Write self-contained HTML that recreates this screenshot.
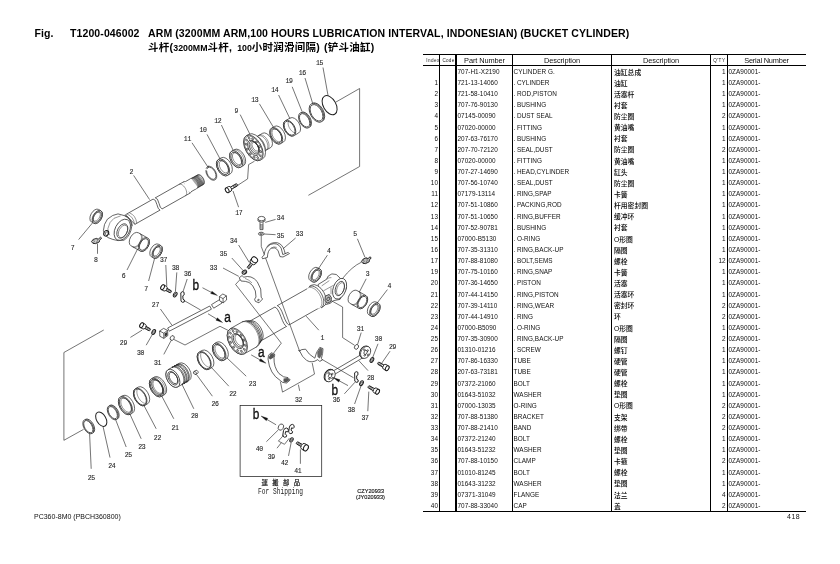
<!DOCTYPE html>
<html lang="zh"><head><meta charset="utf-8"><title>T1200-046002 ARM (BUCKET CYLINDER)</title>
<style>
html,body{margin:0;padding:0;background:#fff;}
#page{will-change:transform;position:relative;width:840px;height:564px;overflow:hidden;background:#fff;color:#000;font-family:"Liberation Sans","Noto Sans CJK SC",sans-serif;}
.t1{position:absolute;top:26.5px;letter-spacing:0.105px;font:bold 10.5px/12px "Liberation Sans","Noto Sans CJK SC",sans-serif;white-space:nowrap;}
.t2{position:absolute;left:148px;top:41px;letter-spacing:0.25px;font:bold 10.5px/12px "Liberation Sans","Noto Sans CJK SC",sans-serif;white-space:nowrap;}
.hl{position:absolute;left:423px;width:383px;background:#000;}
.vl{position:absolute;top:54px;height:457px;background:#000;}
.hs{position:absolute;top:55.7px;height:9px;font:4.6px/9px "Liberation Sans",sans-serif;color:#222;text-align:center;white-space:nowrap;}
.hb{position:absolute;top:55.6px;height:9px;letter-spacing:-0.1px;font:7.4px/9px "Liberation Sans",sans-serif;text-align:center;white-space:nowrap;color:#111;}
.r{position:absolute;left:0;width:840px;height:10px;font:6.4px/10px "Liberation Sans","Noto Sans CJK SC",sans-serif;letter-spacing:0.04px;color:#111;}
.c{position:absolute;top:0;white-space:nowrap;}
.ci{left:417px;width:21px;text-align:right;}
.cp{left:457.5px;}
.cd{left:513.5px;}
.cz{left:614px;top:0.7px;font-weight:500;color:#000;letter-spacing:0;font-family:"Liberation Sans","Noto Sans CJK SC",sans-serif;font-size:6.8px;}
.cq{left:705px;width:20.6px;text-align:right;}
.cs{left:728.5px;}
.ft{position:absolute;top:512px;font:7px/10px "Liberation Sans","Noto Sans CJK SC",sans-serif;white-space:nowrap;color:#111;}
svg#dg{position:absolute;left:0;top:0;}
.t2 .e{font-size:8.8px;letter-spacing:0;}
.dt{display:inline-block;width:3.4px;}

</style></head>
<body>
<div id="page">
<div class="t1" style="left:34.5px">Fig.</div>
<div class="t1" style="left:70px">T1200-046002</div>
<div class="t1" style="left:148px">ARM (3200MM ARM,100 HOURS LUBRICATION INTERVAL, INDONESIAN) (BUCKET CYLINDER)</div>
<div class="t2">斗杆(<span class="e">3200MM</span>斗杆,<span class="e" style="margin-left:5px">100</span>小时润滑间隔)<span style="margin-left:4px">(</span>铲斗油缸)</div>
<div class="hl" style="top:53.8px;height:1.5px"></div>
<div class="hl" style="top:64.5px;height:1.3px"></div>
<div class="hl" style="top:510.6px;height:1.5px"></div>
<div class="vl" style="left:439.1px;width:1.2px"></div>
<div class="vl" style="left:455.4px;width:1.8px"></div>
<div class="vl" style="left:511.9px;width:1.2px"></div>
<div class="vl" style="left:611.0px;width:1.2px"></div>
<div class="vl" style="left:710.3px;width:1.2px"></div>
<div class="vl" style="left:726.5px;width:1.6px"></div>
<div class="hs" style="left:425.5px;width:15px;letter-spacing:0.45px">Index</div>
<div class="hs" style="left:441.5px;width:14px;letter-spacing:0.25px">Code</div>
<div class="hb" style="left:457px;width:55px">Part Number</div>
<div class="hb" style="left:513px;width:98px">Description</div>
<div class="hb" style="left:612px;width:98px">Description</div>
<div class="hs" style="left:711.8px;width:15px;letter-spacing:0.5px">Q'TY</div>
<div class="hb" style="left:728px;width:77px;letter-spacing:-0.2px">Serial Number</div>
<div class="r" style="top:66.90px"><span class="c cp">707-H1-X2190</span><span class="c cd">CYLINDER G.</span><span class="c cz">油缸总成</span><span class="c cq">1</span><span class="c cs">0ZA90001-</span></div>
<div class="r" style="top:78.03px"><span class="c ci">1</span><span class="c cp">721-13-14060</span><span class="c cd"><span class="dt">.</span>CYLINDER</span><span class="c cz">油缸</span><span class="c cq">1</span><span class="c cs">0ZA90001-</span></div>
<div class="r" style="top:89.16px"><span class="c ci">2</span><span class="c cp">721-58-10410</span><span class="c cd"><span class="dt">.</span>ROD,PISTON</span><span class="c cz">活塞杆</span><span class="c cq">1</span><span class="c cs">0ZA90001-</span></div>
<div class="r" style="top:100.29px"><span class="c ci">3</span><span class="c cp">707-76-90130</span><span class="c cd"><span class="dt">.</span>BUSHING</span><span class="c cz">衬套</span><span class="c cq">1</span><span class="c cs">0ZA90001-</span></div>
<div class="r" style="top:111.42px"><span class="c ci">4</span><span class="c cp">07145-00090</span><span class="c cd"><span class="dt">.</span>DUST SEAL</span><span class="c cz">防尘圈</span><span class="c cq">2</span><span class="c cs">0ZA90001-</span></div>
<div class="r" style="top:122.55px"><span class="c ci">5</span><span class="c cp">07020-00000</span><span class="c cd"><span class="dt">.</span>FITTING</span><span class="c cz">黄油嘴</span><span class="c cq">1</span><span class="c cs">0ZA90001-</span></div>
<div class="r" style="top:133.68px"><span class="c ci">6</span><span class="c cp">207-63-76170</span><span class="c cd"><span class="dt">.</span>BUSHING</span><span class="c cz">衬套</span><span class="c cq">1</span><span class="c cs">0ZA90001-</span></div>
<div class="r" style="top:144.81px"><span class="c ci">7</span><span class="c cp">207-70-72120</span><span class="c cd"><span class="dt">.</span>SEAL,DUST</span><span class="c cz">防尘圈</span><span class="c cq">2</span><span class="c cs">0ZA90001-</span></div>
<div class="r" style="top:155.94px"><span class="c ci">8</span><span class="c cp">07020-00000</span><span class="c cd"><span class="dt">.</span>FITTING</span><span class="c cz">黄油嘴</span><span class="c cq">1</span><span class="c cs">0ZA90001-</span></div>
<div class="r" style="top:167.07px"><span class="c ci">9</span><span class="c cp">707-27-14690</span><span class="c cd"><span class="dt">.</span>HEAD,CYLINDER</span><span class="c cz">缸头</span><span class="c cq">1</span><span class="c cs">0ZA90001-</span></div>
<div class="r" style="top:178.20px"><span class="c ci">10</span><span class="c cp">707-56-10740</span><span class="c cd"><span class="dt">.</span>SEAL,DUST</span><span class="c cz">防尘圈</span><span class="c cq">1</span><span class="c cs">0ZA90001-</span></div>
<div class="r" style="top:189.33px"><span class="c ci">11</span><span class="c cp">07179-13114</span><span class="c cd"><span class="dt">.</span>RING,SPAP</span><span class="c cz">卡簧</span><span class="c cq">1</span><span class="c cs">0ZA90001-</span></div>
<div class="r" style="top:200.46px"><span class="c ci">12</span><span class="c cp">707-51-10860</span><span class="c cd"><span class="dt">.</span>PACKING,ROD</span><span class="c cz">杆用密封圈</span><span class="c cq">1</span><span class="c cs">0ZA90001-</span></div>
<div class="r" style="top:211.59px"><span class="c ci">13</span><span class="c cp">707-51-10650</span><span class="c cd"><span class="dt">.</span>RING,BUFFER</span><span class="c cz">缓冲环</span><span class="c cq">1</span><span class="c cs">0ZA90001-</span></div>
<div class="r" style="top:222.72px"><span class="c ci">14</span><span class="c cp">707-52-90781</span><span class="c cd"><span class="dt">.</span>BUSHING</span><span class="c cz">衬套</span><span class="c cq">1</span><span class="c cs">0ZA90001-</span></div>
<div class="r" style="top:233.85px"><span class="c ci">15</span><span class="c cp">07000-B5130</span><span class="c cd"><span class="dt">.</span>O-RING</span><span class="c cz">O形圈</span><span class="c cq">1</span><span class="c cs">0ZA90001-</span></div>
<div class="r" style="top:244.98px"><span class="c ci">16</span><span class="c cp">707-35-31310</span><span class="c cd"><span class="dt">.</span>RING,BACK-UP</span><span class="c cz">隔圈</span><span class="c cq">1</span><span class="c cs">0ZA90001-</span></div>
<div class="r" style="top:256.11px"><span class="c ci">17</span><span class="c cp">707-88-81080</span><span class="c cd"><span class="dt">.</span>BOLT,SEMS</span><span class="c cz">螺栓</span><span class="c cq">12</span><span class="c cs">0ZA90001-</span></div>
<div class="r" style="top:267.24px"><span class="c ci">19</span><span class="c cp">707-75-10160</span><span class="c cd"><span class="dt">.</span>RING,SNAP</span><span class="c cz">卡簧</span><span class="c cq">1</span><span class="c cs">0ZA90001-</span></div>
<div class="r" style="top:278.37px"><span class="c ci">20</span><span class="c cp">707-36-14650</span><span class="c cd"><span class="dt">.</span>PISTON</span><span class="c cz">活塞</span><span class="c cq">1</span><span class="c cs">0ZA90001-</span></div>
<div class="r" style="top:289.50px"><span class="c ci">21</span><span class="c cp">707-44-14150</span><span class="c cd"><span class="dt">.</span>RING,PISTON</span><span class="c cz">活塞环</span><span class="c cq">1</span><span class="c cs">0ZA90001-</span></div>
<div class="r" style="top:300.63px"><span class="c ci">22</span><span class="c cp">707-39-14110</span><span class="c cd"><span class="dt">.</span>RING,WEAR</span><span class="c cz">密封环</span><span class="c cq">2</span><span class="c cs">0ZA90001-</span></div>
<div class="r" style="top:311.76px"><span class="c ci">23</span><span class="c cp">707-44-14910</span><span class="c cd"><span class="dt">.</span>RING</span><span class="c cz">环</span><span class="c cq">2</span><span class="c cs">0ZA90001-</span></div>
<div class="r" style="top:322.89px"><span class="c ci">24</span><span class="c cp">07000-B5090</span><span class="c cd"><span class="dt">.</span>O-RING</span><span class="c cz">O形圈</span><span class="c cq">1</span><span class="c cs">0ZA90001-</span></div>
<div class="r" style="top:334.02px"><span class="c ci">25</span><span class="c cp">707-35-30900</span><span class="c cd"><span class="dt">.</span>RING,BACK-UP</span><span class="c cz">隔圈</span><span class="c cq">2</span><span class="c cs">0ZA90001-</span></div>
<div class="r" style="top:345.15px"><span class="c ci">26</span><span class="c cp">01310-01216</span><span class="c cd"><span class="dt">.</span>SCREW</span><span class="c cz">螺钉</span><span class="c cq">1</span><span class="c cs">0ZA90001-</span></div>
<div class="r" style="top:356.28px"><span class="c ci">27</span><span class="c cp">707-86-16330</span><span class="c cd">TUBE</span><span class="c cz">硬管</span><span class="c cq">1</span><span class="c cs">0ZA90001-</span></div>
<div class="r" style="top:367.41px"><span class="c ci">28</span><span class="c cp">207-63-73181</span><span class="c cd">TUBE</span><span class="c cz">硬管</span><span class="c cq">1</span><span class="c cs">0ZA90001-</span></div>
<div class="r" style="top:378.54px"><span class="c ci">29</span><span class="c cp">07372-21060</span><span class="c cd">BOLT</span><span class="c cz">螺栓</span><span class="c cq">1</span><span class="c cs">0ZA90001-</span></div>
<div class="r" style="top:389.67px"><span class="c ci">30</span><span class="c cp">01643-51032</span><span class="c cd">WASHER</span><span class="c cz">垫圈</span><span class="c cq">1</span><span class="c cs">0ZA90001-</span></div>
<div class="r" style="top:400.80px"><span class="c ci">31</span><span class="c cp">07000-13035</span><span class="c cd">O-RING</span><span class="c cz">O形圈</span><span class="c cq">2</span><span class="c cs">0ZA90001-</span></div>
<div class="r" style="top:411.93px"><span class="c ci">32</span><span class="c cp">707-88-51380</span><span class="c cd">BRACKET</span><span class="c cz">支架</span><span class="c cq">2</span><span class="c cs">0ZA90001-</span></div>
<div class="r" style="top:423.06px"><span class="c ci">33</span><span class="c cp">707-88-21410</span><span class="c cd">BAND</span><span class="c cz">绑带</span><span class="c cq">2</span><span class="c cs">0ZA90001-</span></div>
<div class="r" style="top:434.19px"><span class="c ci">34</span><span class="c cp">07372-21240</span><span class="c cd">BOLT</span><span class="c cz">螺栓</span><span class="c cq">1</span><span class="c cs">0ZA90001-</span></div>
<div class="r" style="top:445.32px"><span class="c ci">35</span><span class="c cp">01643-51232</span><span class="c cd">WASHER</span><span class="c cz">垫圈</span><span class="c cq">1</span><span class="c cs">0ZA90001-</span></div>
<div class="r" style="top:456.45px"><span class="c ci">36</span><span class="c cp">707-88-10150</span><span class="c cd">CLAMP</span><span class="c cz">卡箍</span><span class="c cq">2</span><span class="c cs">0ZA90001-</span></div>
<div class="r" style="top:467.58px"><span class="c ci">37</span><span class="c cp">01010-81245</span><span class="c cd">BOLT</span><span class="c cz">螺栓</span><span class="c cq">1</span><span class="c cs">0ZA90001-</span></div>
<div class="r" style="top:478.71px"><span class="c ci">38</span><span class="c cp">01643-31232</span><span class="c cd">WASHER</span><span class="c cz">垫圈</span><span class="c cq">1</span><span class="c cs">0ZA90001-</span></div>
<div class="r" style="top:489.84px"><span class="c ci">39</span><span class="c cp">07371-31049</span><span class="c cd">FLANGE</span><span class="c cz">法兰</span><span class="c cq">4</span><span class="c cs">0ZA90001-</span></div>
<div class="r" style="top:500.97px"><span class="c ci">40</span><span class="c cp">707-88-33040</span><span class="c cd">CAP</span><span class="c cz">盖</span><span class="c cq">2</span><span class="c cs">0ZA90001-</span></div>
<div class="ft" style="left:34px">PC360-8M0 (PBCH360800)</div>
<div class="ft" style="left:787px;letter-spacing:0.5px">418</div>
<svg id="dg" width="840" height="564" viewBox="0 0 840 564">
<style>
.p{fill:#fff;stroke:#222;stroke-width:.7}
.n{fill:none;stroke:#222;stroke-width:.7}
.p2{fill:#fff;stroke:#1a1a1a;stroke-width:.95}
.n2{fill:none;stroke:#1a1a1a;stroke-width:.95}
.h{fill:none;stroke:#333;stroke-width:.5}
.k{fill:none;stroke:#222;stroke-width:1}
.l{fill:none;stroke:#2a2a2a;stroke-width:.65}
.w{fill:#fff;stroke:none}
.f{fill:#111;stroke:#111;stroke-width:.3}
.g{fill:#555;stroke:#222;stroke-width:.5}
.t{font:7.6px "Liberation Mono",monospace;letter-spacing:-.45px;fill:#1a1a1a;stroke:#333;stroke-width:.12;text-anchor:middle}
.b{font:14.5px "Liberation Sans",sans-serif;fill:#111;stroke:#111;stroke-width:.35;text-anchor:middle}
</style>
<path class="l" d="M336 102 L359.6 88.5 L359.6 166.5 L308.4 195.3"/>
<path class="l" d="M103.75 330 L63.9 352.5 L63.9 440.3 L83.5 429.4"/>
<ellipse class="k" cx="329.6" cy="105.2" rx="6.3" ry="10.4" transform="rotate(-29.5 329.6 105.2)"/>
<ellipse class="p" cx="317.3" cy="112.3" rx="6.2" ry="10.3" transform="rotate(-29.5 317.3 112.3)"/>
<ellipse class="p" cx="316.5" cy="112.8" rx="6.2" ry="10.3" transform="rotate(-29.5 316.5 112.8)"/>
<ellipse class="n" cx="316.5" cy="112.8" rx="5.3" ry="9" transform="rotate(-29.5 316.5 112.8)"/>
<ellipse class="p" cx="305.4" cy="119.8" rx="5.1" ry="8.5" transform="rotate(-29.5 305.4 119.8)"/>
<ellipse class="p" cx="304.6" cy="120.3" rx="5.1" ry="8.5" transform="rotate(-29.5 304.6 120.3)"/>
<ellipse class="n" cx="304.6" cy="120.3" rx="4.3" ry="7.3" transform="rotate(-29.5 304.6 120.3)"/>
<path class="p" d="M285.37 120.71 L290.15 118.01 A5.2 8.6 -29.5 0 1 298.62 132.98 L293.83 135.69 A5.2 8.6 -29.5 0 1 285.37 120.71 Z"/>
<ellipse class="p" cx="289.6" cy="128.2" rx="5.2" ry="8.6" transform="rotate(-29.5 289.6 128.2)"/>
<ellipse class="n" cx="289.6" cy="128.2" rx="4.5" ry="7.6" transform="rotate(-29.5 289.6 128.2)"/>
<path class="h" d="M288.32 121.36 L288.15 122.19 L288.1 123.11 L288.17 124.09 L288.36 125.11 L288.67 126.15 L289.09 127.19 L289.6 128.2 L290.2 129.16 L290.88 130.05 L291.61 130.85 L292.39 131.54 L293.19 132.11 L294 132.54 L294.8 132.82"/>
<path class="p" d="M271.77 127.97 L274.55 126.39 A5.4 9 -29.5 0 1 283.42 142.06 L280.63 143.63 A5.4 9 -29.5 0 1 271.77 127.97 Z"/>
<ellipse class="p" cx="276.2" cy="135.8" rx="5.4" ry="9" transform="rotate(-29.5 276.2 135.8)"/>
<ellipse class="n" cx="276.2" cy="135.8" rx="4.6" ry="7.8" transform="rotate(-29.5 276.2 135.8)"/>
<ellipse class="h" cx="276.9" cy="135.41" rx="4.1" ry="7" transform="rotate(-29.5 276.9 135.41)"/>
<path class="w" d="M251.97 139.29 L262.68 133.23 A4.9 8.2 -29.5 0 1 270.75 147.5 L260.05 153.56 A4.9 8.2 -29.5 0 1 251.97 139.29 Z"/>
<path class="n" d="M251.97 139.29 L262.68 133.23 A4.9 8.2 -29.5 0 1 270.75 147.5 L260.05 153.56"/>
<path class="h" d="M259.11 135.25 L260.16 134.89 L261.36 134.91 L262.65 135.3 L263.96 136.05 L265.24 137.11 L266.41 138.44 L267.41 139.97 L268.2 141.62 L268.74 143.31 L269 144.95 L268.96 146.46 L268.64 147.77 L268.03 148.81 L267.19 149.52"/>
<path class="h" d="M257.89 135.94 L258.94 135.58 L260.14 135.6 L261.43 135.99 L262.75 136.74 L264.02 137.8 L265.19 139.13 L266.19 140.66 L266.99 142.31 L267.52 144 L267.78 145.64 L267.75 147.15 L267.42 148.46 L266.82 149.5 L265.97 150.21"/>
<path class="w" d="M250.85 138.31 L253.81 136.64 A5.6 9.6 -29.5 0 1 263.26 153.35 L260.3 155.02 A5.6 9.6 -29.5 0 1 250.85 138.31 Z"/>
<path class="n" d="M250.85 138.31 L253.81 136.64 A5.6 9.6 -29.5 0 1 263.26 153.35 L260.3 155.02"/>
<path class="p" d="M246.46 135.63 L248.89 134.25 A7.9 14.1 -29.5 0 1 262.78 158.79 L260.34 160.17 A7.9 14.1 -29.5 0 1 246.46 135.63 Z"/>
<ellipse class="p" cx="253.4" cy="147.9" rx="7.9" ry="14.1" transform="rotate(-29.5 253.4 147.9)"/>
<ellipse class="h" cx="253.4" cy="147.9" rx="7.2" ry="13" transform="rotate(-29.5 253.4 147.9)"/>
<ellipse class="n" cx="253.4" cy="147.9" rx="4.7" ry="8.4" transform="rotate(-29.5 253.4 147.9)"/>
<ellipse class="n" cx="254.1" cy="147.51" rx="4" ry="7.2" transform="rotate(-29.5 254.1 147.51)"/>
<ellipse class="h" cx="254.79" cy="147.11" rx="3.3" ry="6" transform="rotate(-29.5 254.79 147.11)"/>
<ellipse class="h" cx="255.49" cy="146.72" rx="2.7" ry="4.9" transform="rotate(-29.5 255.49 146.72)"/>
<ellipse class="n" cx="259.37" cy="146.66" rx="0.7" ry="1.1" transform="rotate(-29.5 259.37 146.66)"/>
<ellipse class="n" cx="260.72" cy="151.66" rx="0.7" ry="1.1" transform="rotate(-29.5 260.72 151.66)"/>
<ellipse class="n" cx="260.11" cy="155.66" rx="0.7" ry="1.1" transform="rotate(-29.5 260.11 155.66)"/>
<ellipse class="n" cx="257.7" cy="157.58" rx="0.7" ry="1.1" transform="rotate(-29.5 257.7 157.58)"/>
<ellipse class="n" cx="254.14" cy="156.9" rx="0.7" ry="1.1" transform="rotate(-29.5 254.14 156.9)"/>
<ellipse class="n" cx="250.38" cy="153.82" rx="0.7" ry="1.1" transform="rotate(-29.5 250.38 153.82)"/>
<ellipse class="n" cx="247.43" cy="149.14" rx="0.7" ry="1.1" transform="rotate(-29.5 247.43 149.14)"/>
<ellipse class="n" cx="246.08" cy="144.14" rx="0.7" ry="1.1" transform="rotate(-29.5 246.08 144.14)"/>
<ellipse class="n" cx="246.69" cy="140.14" rx="0.7" ry="1.1" transform="rotate(-29.5 246.69 140.14)"/>
<ellipse class="n" cx="249.1" cy="138.22" rx="0.7" ry="1.1" transform="rotate(-29.5 249.1 138.22)"/>
<ellipse class="n" cx="252.66" cy="138.9" rx="0.7" ry="1.1" transform="rotate(-29.5 252.66 138.9)"/>
<ellipse class="n" cx="256.42" cy="141.98" rx="0.7" ry="1.1" transform="rotate(-29.5 256.42 141.98)"/>
<path class="p" d="M231.67 151.19 L234.63 149.52 A5.5 9.2 -29.5 0 1 243.69 165.53 L240.73 167.21 A5.5 9.2 -29.5 0 1 231.67 151.19 Z"/>
<ellipse class="p" cx="236.2" cy="159.2" rx="5.5" ry="9.2" transform="rotate(-29.5 236.2 159.2)"/>
<ellipse class="n" cx="236.2" cy="159.2" rx="4.4" ry="7.6" transform="rotate(-29.5 236.2 159.2)"/>
<ellipse class="h" cx="237.07" cy="158.71" rx="3.8" ry="6.6" transform="rotate(-29.5 237.07 158.71)"/>
<path class="h" d="M234.05 150.01 L235.21 149.92 L236.47 150.17 L237.78 150.74 L239.08 151.61 L240.33 152.76 L241.47 154.12 L242.47 155.65 L243.27 157.29 L243.85 158.98 L244.19 160.64 L244.27 162.2 L244.08 163.62 L243.65 164.83 L242.97 165.78"/>
<path class="p" d="M218.47 159.39 L221.25 157.82 A5.5 9.2 -29.5 0 1 230.32 173.83 L227.53 175.41 A5.5 9.2 -29.5 0 1 218.47 159.39 Z"/>
<ellipse class="p" cx="223" cy="167.4" rx="5.5" ry="9.2" transform="rotate(-29.5 223 167.4)"/>
<ellipse class="n" cx="223" cy="167.4" rx="4.6" ry="7.8" transform="rotate(-29.5 223 167.4)"/>
<ellipse class="h" cx="223.87" cy="166.91" rx="3.8" ry="6.6" transform="rotate(-29.5 223.87 166.91)"/>
<path class="n" d="M206.12 168.52 L207.32 166.84 L209.24 166.31 L211.53 167.05 L213.78 168.91 L215.58 171.56 L216.62 174.53 L216.69 177.27 L215.79 179.3 L214.09 180.25 L211.88 179.95 L209.57 178.45 L207.57 176.02 L206.24 173.11 L205.82 170.22"/>
<path class="n" d="M206.84 169.13 L207.85 167.68 L209.48 167.25 L211.44 167.9 L213.38 169.53 L214.94 171.84 L215.84 174.41 L215.93 176.78 L215.18 178.52 L213.74 179.32 L211.85 179.04 L209.87 177.73 L208.14 175.62 L206.98 173.09 L206.6 170.6"/>
<path class="n" d="M207.6 167.3 L208.6 165.6"/>
<path class="p" d="M125.47 214.72 L183.78 181.73 L190.18 193.04 L134.91 224.31 Z"/>
<path class="p" d="M183.78 181.73 L184.56 181.47 L185.46 181.52 L186.43 181.86 L187.44 182.47 L188.42 183.33 L189.32 184.4 L190.11 185.61 L190.75 186.92 L191.19 188.24 L191.43 189.53 L191.44 190.7 L191.22 191.71 L190.8 192.51 L190.18 193.04"/>
<path class="w" d="M185.43 181.6 L191.09 178.4 A3.3 5.8 -29.5 0 1 196.8 188.49 L191.14 191.69 A3.3 5.8 -29.5 0 1 185.43 181.6 Z"/>
<path class="n" d="M185.43 181.6 L191.09 178.4 A3.3 5.8 -29.5 0 1 196.8 188.49 L191.14 191.69"/>
<path class="w" d="M191.19 178.57 L197.71 174.88 A3.1 5.6 -29.5 0 1 203.23 184.63 L196.7 188.32 A3.1 5.6 -29.5 0 1 191.19 178.57 Z"/>
<path class="n" d="M191.19 178.57 L197.71 174.88 A3.1 5.6 -29.5 0 1 203.23 184.63 L196.7 188.32"/>
<path class="h" d="M191.53 178.37 L192.2 178.16 L192.98 178.19 L193.82 178.49 L194.68 179.02 L195.53 179.76 L196.31 180.68 L196.99 181.72 L197.54 182.84 L197.92 183.99 L198.12 185.09 L198.13 186.11 L197.95 186.98 L197.58 187.66 L197.05 188.12"/>
<path class="h" d="M192.49 177.83 L193.16 177.62 L193.94 177.65 L194.78 177.94 L195.64 178.47 L196.48 179.22 L197.27 180.13 L197.95 181.18 L198.49 182.3 L198.88 183.45 L199.08 184.55 L199.09 185.57 L198.9 186.44 L198.54 187.12 L198.01 187.58"/>
<path class="h" d="M193.45 177.29 L194.12 177.07 L194.89 177.11 L195.73 177.4 L196.6 177.93 L197.44 178.68 L198.22 179.59 L198.9 180.64 L199.45 181.76 L199.83 182.9 L200.04 184.01 L200.04 185.02 L199.86 185.89 L199.5 186.58 L198.96 187.04"/>
<path class="h" d="M194.41 176.75 L195.08 176.53 L195.85 176.57 L196.69 176.86 L197.55 177.39 L198.4 178.13 L199.18 179.05 L199.86 180.1 L200.41 181.22 L200.79 182.36 L200.99 183.47 L201 184.48 L200.82 185.35 L200.45 186.04 L199.92 186.5"/>
<path class="h" d="M195.36 176.21 L196.03 175.99 L196.81 176.03 L197.65 176.32 L198.51 176.85 L199.36 177.59 L200.14 178.51 L200.82 179.56 L201.37 180.68 L201.75 181.82 L201.95 182.93 L201.96 183.94 L201.78 184.81 L201.41 185.49 L200.88 185.96"/>
<path class="h" d="M196.32 175.67 L196.99 175.45 L197.77 175.49 L198.61 175.78 L199.47 176.31 L200.31 177.05 L201.1 177.97 L201.78 179.01 L202.32 180.14 L202.71 181.28 L202.91 182.39 L202.92 183.4 L202.73 184.27 L202.37 184.95 L201.84 185.41"/>
<path class="h" d="M197.28 175.12 L197.95 174.91 L198.72 174.94 L199.56 175.24 L200.43 175.77 L201.27 176.51 L202.05 177.43 L202.73 178.47 L203.28 179.59 L203.66 180.74 L203.87 181.84 L203.87 182.86 L203.69 183.73 L203.33 184.41 L202.79 184.87"/>
<path d="M191.19 178.57 L197.71 174.88 L204.53 183.89 L198.01 187.58 Z" fill="#000" fill-opacity=".35" stroke="none"/>
<path class="h" d="M178.99 184.44 L179.77 184.18 L180.67 184.23 L181.65 184.56 L182.65 185.18 L183.63 186.04 L184.54 187.11 L185.33 188.32 L185.96 189.62 L186.41 190.95 L186.64 192.23 L186.65 193.41 L186.44 194.42 L186.01 195.21 L185.39 195.75"/>
<path class="w" d="M152.65 198.19 L154.74 197.01 L162.65 209.77 L160.56 210.95 Z"/>
<path class="n" d="M153.14 199.06 Q155.7 199.11 156.87 204.42 T160.07 210.08"/>
<path class="n" d="M155.23 197.88 Q157.79 197.93 158.96 203.24 T162.16 208.9"/>
<path class="p" d="M124.3 215.6 L118 213.9 Q112.7 214.4 107.4 219.2 Q103.6 224 103.4 230.7 Q104 235 108 237.6 Q112.7 239.8 118 240.6 L124 240.2 Q130.6 236 131.8 226 Q130.4 218 124.3 215.6 Z"/>
<path class="n" d="M124.6 215.4 Q131.2 217.8 132.4 225.8"/>
<path class="h" d="M127 214 Q133.6 216.6 134.6 224.6"/>
<path class="h" d="M129.4 212.8 Q135.8 215.2 136.8 223.4"/>
<ellipse class="p" cx="122.3" cy="229.8" rx="7.2" ry="11.3" transform="rotate(27 122.3 229.8)"/>
<ellipse class="n" cx="122.3" cy="231" rx="4.8" ry="7.7" transform="rotate(27 122.3 231)"/>
<ellipse class="h" cx="123" cy="231.4" rx="4" ry="6.7" transform="rotate(27 123 231.4)"/>
<path class="h" d="M107.9 228.5 Q109.2 221.6 114 218.3 L120.6 215.9 M107.9 228.5 Q107.6 232.6 109.8 235.2"/>
<ellipse class="p2" cx="106.2" cy="233.3" rx="2.3" ry="2.9" transform="rotate(29.5 106.2 233.3)"/>
<ellipse class="n" cx="106.7" cy="233.6" rx="1.4" ry="1.9" transform="rotate(29.5 106.7 233.6)"/>
<path class="p" d="M100.85 210.73 L98.58 209.45 A4.3 7.2 29.5 0 0 91.49 221.99 L93.75 223.27 A4.3 7.2 29.5 0 0 100.85 210.73 Z"/>
<ellipse class="p" cx="97.3" cy="217" rx="4.3" ry="7.2" transform="rotate(29.5 97.3 217)"/>
<ellipse class="n" cx="97.3" cy="217" rx="3.4" ry="5.9" transform="rotate(29.5 97.3 217)"/>
<ellipse class="h" cx="96.69" cy="216.66" rx="2.8" ry="5" transform="rotate(29.5 96.69 216.66)"/>
<path class="p" d="M160.75 245.53 L158.48 244.25 A4.3 7.2 29.5 0 0 151.39 256.79 L153.65 258.07 A4.3 7.2 29.5 0 0 160.75 245.53 Z"/>
<ellipse class="p" cx="157.2" cy="251.8" rx="4.3" ry="7.2" transform="rotate(29.5 157.2 251.8)"/>
<ellipse class="n" cx="157.2" cy="251.8" rx="3.4" ry="5.9" transform="rotate(29.5 157.2 251.8)"/>
<ellipse class="h" cx="156.59" cy="251.46" rx="2.8" ry="5" transform="rotate(29.5 156.59 251.46)"/>
<path class="p" d="M147.59 237.97 L138.45 232.8 A4.7 7.5 29.5 0 0 131.07 245.86 L140.21 251.03 A4.7 7.5 29.5 0 0 147.59 237.97 Z"/>
<ellipse class="p" cx="143.9" cy="244.5" rx="4.7" ry="7.5" transform="rotate(29.5 143.9 244.5)"/>
<ellipse class="n" cx="143.9" cy="244.5" rx="3.8" ry="6.3" transform="rotate(29.5 143.9 244.5)"/>
<path class="h" d="M140.46 233.93 L141.27 234.61 L141.87 235.59 L142.2 236.8 L142.26 238.2 L142.05 239.72 L141.57 241.27 L140.85 242.78 L139.93 244.17 L138.85 245.38 L137.66 246.34 L136.43 247.01 L135.21 247.35 L134.07 247.34 L133.07 246.99"/>
<path class="h" d="M139.67 233.49 L140.49 234.17 L141.08 235.14 L141.42 236.36 L141.48 237.76 L141.27 239.27 L140.79 240.82 L140.07 242.33 L139.15 243.73 L138.06 244.94 L136.88 245.9 L135.64 246.57 L134.43 246.9 L133.29 246.9 L132.29 246.55"/>
<path d="M91.5 241.6 L93.2 239.4 L96.5 238.4 L98.2 239.2 L100.6 237.2 L101.6 238 L99.6 240.4 L99.2 242 L95.6 243.6 L93 243.4 Z" fill="#ccc" stroke="#1a1a1a" stroke-width=".9"/>
<path class="h" d="M93.2 239.4 L94.4 241.6 L93 243.4"/>
<path class="h" d="M96.5 238.4 L97.6 240.6 L95.6 243.6"/>
<path class="w" d="M229.22 187.78 L236.18 183.84 A0.72 1.2 -29.5 0 1 237.36 185.93 L230.4 189.87 A0.72 1.2 -29.5 0 1 229.22 187.78 Z"/>
<path class="n2" d="M229.22 187.78 L236.18 183.84 A0.72 1.2 -29.5 0 1 237.36 185.93 L230.4 189.87"/>
<path class="n" d="M235.31 184.33 L235.47 184.28 L235.64 184.28 L235.83 184.34 L236.03 184.45 L236.21 184.6 L236.38 184.8 L236.53 185.02 L236.65 185.26 L236.72 185.51 L236.76 185.75 L236.76 185.97 L236.71 186.16 L236.62 186.32 L236.49 186.42"/>
<path class="n" d="M234.36 184.87 L234.51 184.82 L234.69 184.82 L234.87 184.88 L235.07 184.99 L235.25 185.14 L235.43 185.34 L235.57 185.56 L235.69 185.8 L235.77 186.05 L235.8 186.29 L235.8 186.51 L235.75 186.7 L235.66 186.86 L235.54 186.96"/>
<path class="n" d="M233.4 185.41 L233.55 185.36 L233.73 185.36 L233.92 185.42 L234.11 185.53 L234.3 185.69 L234.47 185.88 L234.62 186.1 L234.73 186.35 L234.81 186.59 L234.85 186.83 L234.84 187.05 L234.79 187.25 L234.7 187.4 L234.58 187.5"/>
<path class="n" d="M232.44 185.96 L232.59 185.9 L232.77 185.91 L232.96 185.96 L233.15 186.07 L233.34 186.23 L233.51 186.42 L233.66 186.65 L233.77 186.89 L233.85 187.13 L233.89 187.37 L233.88 187.6 L233.84 187.79 L233.75 187.94 L233.62 188.05"/>
<path class="p2" d="M225.92 188.04 L228.53 186.56 A1.6 2.6 -29.5 0 1 231.09 191.09 L228.48 192.56 A1.6 2.6 -29.5 0 1 225.92 188.04 Z"/>
<ellipse class="p2" cx="227.2" cy="190.3" rx="1.6" ry="2.6" transform="rotate(-29.5 227.2 190.3)"/>
<path class="l" d="M237.6 185.4 L247.6 178.9 L248.6 164.6 L254.5 161.2"/>
<ellipse class="p" cx="89.19" cy="426.15" rx="4.5" ry="7.8" transform="rotate(-29.5 89.19 426.15)"/>
<ellipse class="p" cx="88.31" cy="426.65" rx="4.5" ry="7.8" transform="rotate(-29.5 88.31 426.65)"/>
<ellipse class="n" cx="88.31" cy="426.65" rx="3.7" ry="6.7" transform="rotate(-29.5 88.31 426.65)"/>
<ellipse class="k" cx="101.25" cy="419.2" rx="4.7" ry="7.8" transform="rotate(-29.5 101.25 419.2)"/>
<ellipse class="p" cx="113.64" cy="412.15" rx="4.5" ry="7.8" transform="rotate(-29.5 113.64 412.15)"/>
<ellipse class="p" cx="112.76" cy="412.65" rx="4.5" ry="7.8" transform="rotate(-29.5 112.76 412.65)"/>
<ellipse class="n" cx="112.76" cy="412.65" rx="3.7" ry="6.7" transform="rotate(-29.5 112.76 412.65)"/>
<path class="p" d="M120.48 396.9 L122.74 395.62 A5.8 10 -29.5 0 1 132.59 413.02 L130.32 414.3 A5.8 10 -29.5 0 1 120.48 396.9 Z"/>
<ellipse class="p" cx="125.4" cy="405.6" rx="5.8" ry="10" transform="rotate(-29.5 125.4 405.6)"/>
<ellipse class="n" cx="125.4" cy="405.6" rx="4.9" ry="8.7" transform="rotate(-29.5 125.4 405.6)"/>
<ellipse class="h" cx="126.18" cy="405.16" rx="4.4" ry="7.8" transform="rotate(-29.5 126.18 405.16)"/>
<path class="p" d="M135.47 388.64 L138.26 387.07 A5.6 9.6 -29.5 0 1 147.71 403.78 L144.93 405.36 A5.6 9.6 -29.5 0 1 135.47 388.64 Z"/>
<ellipse class="p" cx="140.2" cy="397" rx="5.6" ry="9.6" transform="rotate(-29.5 140.2 397)"/>
<ellipse class="n" cx="140.2" cy="397" rx="5" ry="8.8" transform="rotate(-29.5 140.2 397)"/>
<path class="h" d="M137.42 389.07 L137.06 390.02 L136.87 391.14 L136.87 392.39 L137.05 393.73 L137.41 395.12 L137.95 396.52 L138.63 397.89 L139.45 399.18 L140.38 400.36 L141.38 401.39 L142.44 402.23 L143.51 402.87 L144.56 403.29 L145.57 403.46"/>
<path class="p" d="M151.58 378.62 L154.54 376.95 A6 10.2 -29.5 0 1 164.58 394.7 L161.62 396.38 A6 10.2 -29.5 0 1 151.58 378.62 Z"/>
<ellipse class="p" cx="156.6" cy="387.5" rx="6" ry="10.2" transform="rotate(-29.5 156.6 387.5)"/>
<ellipse class="n" cx="156.6" cy="387.5" rx="5.2" ry="9.1" transform="rotate(-29.5 156.6 387.5)"/>
<ellipse class="n" cx="157.3" cy="387.11" rx="4.6" ry="8.1" transform="rotate(-29.5 157.3 387.11)"/>
<ellipse class="h" cx="157.99" cy="386.71" rx="4.1" ry="7.3" transform="rotate(-29.5 157.99 386.71)"/>
<path class="h" d="M154.04 377.41 L155.31 377.32 L156.69 377.6 L158.13 378.24 L159.56 379.22 L160.94 380.49 L162.2 382.01 L163.3 383.71 L164.19 385.53 L164.84 387.39 L165.22 389.22 L165.32 390.96 L165.13 392.52 L164.66 393.85 L163.93 394.89"/>
<path class="p" d="M168.03 369.68 L179.34 363.28 A5.8 9.9 -29.5 0 1 189.09 380.52 L177.77 386.92 A5.8 9.9 -29.5 0 1 168.03 369.68 Z"/>
<ellipse class="p" cx="172.9" cy="378.3" rx="5.8" ry="9.9" transform="rotate(-29.5 172.9 378.3)"/>
<path class="n" d="M172.21 367.32 L173.46 366.98 L174.87 367.06 L176.38 367.58 L177.91 368.5 L179.4 369.79 L180.77 371.37 L181.95 373.18 L182.89 375.12 L183.54 377.11 L183.88 379.05 L183.88 380.84 L183.54 382.4 L182.89 383.66 L181.95 384.55"/>
<path class="n" d="M173.08 366.83 L174.33 366.48 L175.74 366.57 L177.25 367.09 L178.79 368.01 L180.27 369.3 L181.64 370.88 L182.82 372.69 L183.76 374.63 L184.42 376.62 L184.75 378.55 L184.75 380.35 L184.42 381.91 L183.76 383.16 L182.82 384.05"/>
<path class="n" d="M174.47 366.04 L175.72 365.7 L177.13 365.78 L178.64 366.3 L180.18 367.22 L181.67 368.51 L183.03 370.09 L184.21 371.9 L185.15 373.84 L185.81 375.83 L186.14 377.77 L186.14 379.56 L185.81 381.12 L185.15 382.38 L184.21 383.27"/>
<path class="n" d="M175.34 365.55 L176.59 365.2 L178 365.29 L179.51 365.81 L181.05 366.73 L182.54 368.02 L183.9 369.6 L185.08 371.41 L186.03 373.35 L186.68 375.34 L187.01 377.27 L187.01 379.07 L186.68 380.63 L186.03 381.88 L185.09 382.77"/>
<path class="n" d="M176.73 364.76 L177.98 364.42 L179.39 364.5 L180.9 365.02 L182.44 365.94 L183.93 367.23 L185.3 368.81 L186.48 370.62 L187.42 372.56 L188.07 374.55 L188.41 376.49 L188.41 378.28 L188.07 379.84 L187.42 381.1 L186.48 381.99"/>
<path class="n" d="M177.6 364.27 L178.85 363.92 L180.26 364.01 L181.78 364.53 L183.31 365.45 L184.8 366.74 L186.17 368.32 L187.35 370.13 L188.29 372.07 L188.94 374.06 L189.28 375.99 L189.28 377.79 L188.94 379.35 L188.29 380.6 L187.35 381.49"/>
<path d="M172.03 367.42 L172.9 366.93" stroke="#222" stroke-width="1.3" fill="none"/>
<path d="M181.78 384.65 L182.65 384.16" stroke="#222" stroke-width="1.3" fill="none"/>
<path d="M174.29 366.14 L175.16 365.65" stroke="#222" stroke-width="1.3" fill="none"/>
<path d="M184.04 383.37 L184.91 382.88" stroke="#222" stroke-width="1.3" fill="none"/>
<path d="M176.55 364.86 L177.42 364.37" stroke="#222" stroke-width="1.3" fill="none"/>
<path d="M186.3 382.09 L187.17 381.6" stroke="#222" stroke-width="1.3" fill="none"/>
<ellipse class="n" cx="172.9" cy="378.3" rx="4.2" ry="7.4" transform="rotate(-29.5 172.9 378.3)"/>
<ellipse class="n" cx="173.42" cy="378" rx="3.5" ry="6.2" transform="rotate(-29.5 173.42 378)"/>
<path class="p" d="M194.16 371.42 L196.08 370.34 A1.1 1.7 -29.5 0 1 197.75 373.3 L195.84 374.38 A1.1 1.7 -29.5 0 1 194.16 371.42 Z"/>
<ellipse class="p" cx="195" cy="372.9" rx="1.1" ry="1.7" transform="rotate(-29.5 195 372.9)"/>
<path class="p" d="M199.33 351.98 L202.11 350.41 A5.8 9.9 -29.5 0 1 211.86 367.64 L209.07 369.22 A5.8 9.9 -29.5 0 1 199.33 351.98 Z"/>
<ellipse class="p" cx="204.2" cy="360.6" rx="5.8" ry="9.9" transform="rotate(-29.5 204.2 360.6)"/>
<ellipse class="n" cx="204.2" cy="360.6" rx="5.2" ry="9" transform="rotate(-29.5 204.2 360.6)"/>
<path class="h" d="M201.27 352.54 L200.88 353.52 L200.68 354.67 L200.67 355.95 L200.85 357.33 L201.22 358.75 L201.76 360.19 L202.46 361.58 L203.3 362.91 L204.25 364.11 L205.28 365.16 L206.37 366.02 L207.47 366.67 L208.56 367.09 L209.6 367.26"/>
<path class="p" d="M214.47 343.54 L216.91 342.17 A5.6 9.6 -29.5 0 1 226.36 358.88 L223.93 360.26 A5.6 9.6 -29.5 0 1 214.47 343.54 Z"/>
<ellipse class="p" cx="219.2" cy="351.9" rx="5.6" ry="9.6" transform="rotate(-29.5 219.2 351.9)"/>
<ellipse class="n" cx="219.2" cy="351.9" rx="4.7" ry="8.3" transform="rotate(-29.5 219.2 351.9)"/>
<ellipse class="h" cx="219.98" cy="351.46" rx="4.1" ry="7.3" transform="rotate(-29.5 219.98 351.46)"/>
<path class="p" d="M244.79 324.03 L311.81 286.11 L322.94 305.78 L255.92 343.7 Z"/>
<path class="w" d="M274.33 306.17 L276.76 304.79 L289.57 325.81 L287.14 327.19 Z"/>
<path class="n" d="M274.82 307.04 Q277.85 307.92 280.9 316.58 T286.47 326.41"/>
<path class="n" d="M277.26 305.66 Q280.28 306.54 283.34 315.2 T288.91 325.04"/>
<path class="w" d="M242.39 321.82 L249.43 321.06 A6.7 11.6 -29.5 0 1 260.85 341.25 L256.58 346.89 A8.4 14.4 -29.5 0 1 242.39 321.82 Z"/>
<path class="n" d="M242.39 321.82 L249.43 321.06 A6.7 11.6 -29.5 0 1 260.85 341.25 L256.58 346.89"/>
<path class="n" d="M244.77 321.41 L246.47 320.94 L248.4 321.07 L250.46 321.78 L252.56 323.06 L254.6 324.83 L256.47 327 L258.09 329.49 L259.38 332.16 L260.29 334.88 L260.75 337.54 L260.76 339.99 L260.32 342.13 L259.43 343.85 L258.16 345.07"/>
<path class="n" d="M246.99 321.3 L248.56 320.87 L250.35 320.99 L252.26 321.65 L254.2 322.83 L256.09 324.47 L257.82 326.49 L259.33 328.79 L260.52 331.26 L261.36 333.79 L261.79 336.25 L261.8 338.52 L261.39 340.5 L260.57 342.09 L259.39 343.22"/>
<path class="p" d="M230.21 328.72 L242.83 321.58 A8.4 14.4 -29.5 0 1 257.01 346.64 L244.39 353.78 A8.4 14.4 -29.5 0 1 230.21 328.72 Z"/>
<ellipse class="p" cx="237.3" cy="341.25" rx="8.4" ry="14.4" transform="rotate(-29.5 237.3 341.25)"/>
<path class="h" d="M241.96 322.08 L243.77 321.58 L245.81 321.71 L248.01 322.47 L250.23 323.81 L252.39 325.68 L254.38 327.98 L256.1 330.61 L257.47 333.44 L258.42 336.33 L258.91 339.14 L258.91 341.75 L258.43 344.02 L257.49 345.84 L256.13 347.13"/>
<ellipse class="h" cx="237.3" cy="341.25" rx="7.6" ry="13.2" transform="rotate(-29.5 237.3 341.25)"/>
<ellipse class="n" cx="237.56" cy="341.1" rx="4.7" ry="8.3" transform="rotate(-29.5 237.56 341.1)"/>
<ellipse class="n" cx="238.34" cy="340.66" rx="4.1" ry="7.2" transform="rotate(-29.5 238.34 340.66)"/>
<ellipse class="h" cx="239.21" cy="340.17" rx="3.4" ry="6.1" transform="rotate(-29.5 239.21 340.17)"/>
<ellipse class="n" cx="243.78" cy="340.19" rx="0.7" ry="1.1" transform="rotate(-29.5 243.78 340.19)"/>
<ellipse class="n" cx="244.97" cy="345.29" rx="0.7" ry="1.1" transform="rotate(-29.5 244.97 345.29)"/>
<ellipse class="n" cx="244.1" cy="349.31" rx="0.7" ry="1.1" transform="rotate(-29.5 244.1 349.31)"/>
<ellipse class="n" cx="241.41" cy="351.17" rx="0.7" ry="1.1" transform="rotate(-29.5 241.41 351.17)"/>
<ellipse class="n" cx="237.62" cy="350.38" rx="0.7" ry="1.1" transform="rotate(-29.5 237.62 350.38)"/>
<ellipse class="n" cx="233.74" cy="347.13" rx="0.7" ry="1.1" transform="rotate(-29.5 233.74 347.13)"/>
<ellipse class="n" cx="230.82" cy="342.31" rx="0.7" ry="1.1" transform="rotate(-29.5 230.82 342.31)"/>
<ellipse class="n" cx="229.63" cy="337.21" rx="0.7" ry="1.1" transform="rotate(-29.5 229.63 337.21)"/>
<ellipse class="n" cx="230.5" cy="333.19" rx="0.7" ry="1.1" transform="rotate(-29.5 230.5 333.19)"/>
<ellipse class="n" cx="233.19" cy="331.33" rx="0.7" ry="1.1" transform="rotate(-29.5 233.19 331.33)"/>
<ellipse class="n" cx="236.98" cy="332.12" rx="0.7" ry="1.1" transform="rotate(-29.5 236.98 332.12)"/>
<ellipse class="n" cx="240.86" cy="335.37" rx="0.7" ry="1.1" transform="rotate(-29.5 240.86 335.37)"/>
<path class="p" d="M318 284.6 L326.4 279.4 Q327.4 275.4 331.9 273.9 Q336.6 273 340 278 L346.6 288 L340 299.4 L333.6 300.6 L330 303.4 L322.5 305.4 Z"/>
<path class="h" d="M326.6 279.4 Q328.6 277.2 331.4 277.6 M329.3 280.6 L321.7 285.9 M333.6 285.2 L323.2 291 M331 287.4 L331 294.2"/>
<path class="w" d="M309.19 286.56 L311.63 285.18 A7.1 12.2 -29.5 0 1 323.64 306.42 L321.2 307.8 A7.1 12.2 -29.5 0 1 309.19 286.56 Z"/>
<path class="n" d="M309.19 286.56 L311.63 285.18 A7.1 12.2 -29.5 0 1 323.64 306.42 L321.2 307.8"/>
<path class="n" d="M309.41 286.44 L310.94 286.02 L312.67 286.13 L314.52 286.78 L316.41 287.92 L318.24 289.5 L319.92 291.45 L321.38 293.68 L322.54 296.08 L323.34 298.52 L323.76 300.91 L323.77 303.11 L323.36 305.03 L322.57 306.58 L321.42 307.67"/>
<path class="h" d="M308.22 287.81 L309.68 287.4 L311.33 287.5 L313.1 288.11 L314.9 289.19 L316.65 290.69 L318.25 292.55 L319.64 294.67 L320.74 296.94 L321.5 299.27 L321.89 301.54 L321.89 303.64 L321.5 305.47 L320.73 306.94 L319.63 307.99"/>
<ellipse class="p" cx="339.6" cy="288.7" rx="6.4" ry="10.8" transform="rotate(20 339.6 288.7)"/>
<ellipse class="n" cx="339.8" cy="288.5" rx="4.2" ry="7.5" transform="rotate(20 339.8 288.5)"/>
<ellipse class="h" cx="340.5" cy="288.9" rx="3.5" ry="6.5" transform="rotate(20 340.5 288.9)"/>
<path d="M325.2 296.2 L329.2 294.4 L331.4 297.6 L331 301.6 L327.2 303.2 L325 300.4 Z" fill="#bbb" stroke="#222" stroke-width=".8"/>
<ellipse class="n" cx="328.3" cy="298.9" rx="1.3" ry="1.9" transform="rotate(29.5 328.3 298.9)"/>
<path class="l" d="M331.3 300.6 L342.6 307 L342.6 337.6 L354.6 345.3"/>
<path class="p" d="M319.84 268.96 L317.58 267.68 A4.4 7.4 29.5 0 0 310.29 280.56 L312.56 281.84 A4.4 7.4 29.5 0 0 319.84 268.96 Z"/>
<ellipse class="p" cx="316.2" cy="275.4" rx="4.4" ry="7.4" transform="rotate(29.5 316.2 275.4)"/>
<ellipse class="n" cx="316.2" cy="275.4" rx="3.5" ry="6.1" transform="rotate(29.5 316.2 275.4)"/>
<ellipse class="h" cx="315.59" cy="275.06" rx="2.9" ry="5.2" transform="rotate(29.5 315.59 275.06)"/>
<path class="p" d="M378.54 303.36 L376.28 302.08 A4.4 7.4 29.5 0 0 368.99 314.96 L371.26 316.24 A4.4 7.4 29.5 0 0 378.54 303.36 Z"/>
<ellipse class="p" cx="374.9" cy="309.8" rx="4.4" ry="7.4" transform="rotate(29.5 374.9 309.8)"/>
<ellipse class="n" cx="374.9" cy="309.8" rx="3.5" ry="6.1" transform="rotate(29.5 374.9 309.8)"/>
<ellipse class="h" cx="374.29" cy="309.46" rx="2.9" ry="5.2" transform="rotate(29.5 374.29 309.46)"/>
<path class="p" d="M365.99 295.65 L356.86 290.48 A4.5 7.3 29.5 0 0 349.67 303.18 L358.81 308.35 A4.5 7.3 29.5 0 0 365.99 295.65 Z"/>
<ellipse class="p" cx="362.4" cy="302" rx="4.5" ry="7.3" transform="rotate(29.5 362.4 302)"/>
<ellipse class="n" cx="362.4" cy="302" rx="3.7" ry="6.1" transform="rotate(29.5 362.4 302)"/>
<path class="h" d="M359.38 291.9 L360.16 292.56 L360.72 293.49 L361.04 294.67 L361.09 296.03 L360.87 297.5 L360.4 299 L359.7 300.47 L358.8 301.83 L357.75 303.01 L356.61 303.95 L355.42 304.61 L354.25 304.94 L353.15 304.94 L352.19 304.61"/>
<path class="h" d="M358.6 291.46 L359.38 292.11 L359.94 293.05 L360.25 294.23 L360.31 295.59 L360.09 297.05 L359.62 298.56 L358.92 300.03 L358.02 301.39 L356.97 302.57 L355.82 303.51 L354.63 304.16 L353.46 304.5 L352.37 304.5 L351.41 304.17"/>
<path d="M361.4 261.6 L363 259.2 L366.2 257.8 L368 258.6 L370 256.8 L371.2 257.8 L369.4 260 L369.2 261.8 L365.6 263.6 L363 263.4 Z" fill="#bbb" stroke="#1a1a1a" stroke-width=".9"/>
<path class="h" d="M363 259.2 L364.2 261.4 L363 263.4"/>
<path class="h" d="M366.2 257.8 L367.4 260 L365.6 263.6"/>
<path class="l" d="M361.4 262.2 Q352 266.5 342.5 278.5"/>
<path class="l" d="M261.25 235.6 L261.25 246.5 L265 256.5 L299.2 350"/>
<path class="l" d="M240.6 279 L235.6 284.4 L281.3 343.2 L273.4 353.4"/>
<path class="l" d="M183.2 300 L200.6 310"/>
<path class="l" d="M173.8 339.4 L185 345 L220 326.3 L228.5 330.6"/>
<path class="p" d="M169.33 331.2 L211.43 309.2 L209.77 306 L167.67 328 Z"/>
<path class="p" d="M213.71 308.19 L222.11 302.99 L219.89 299.41 L211.49 304.61 Z"/>
<path class="p" d="M159.6 331 L163.6 328.4 L167.6 330.4 L167.8 335.6 L163.8 338.4 L159.8 336.2 Z"/>
<path class="n" d="M159.6 331 L163.8 333.2 L167.6 330.4"/>
<path class="n" d="M163.8 333.2 L163.8 338.4"/>
<path d="M164.6 333.6 L167.2 332 L167.2 335.2 L164.6 337 Z" fill="#333"/>
<path class="p" d="M219.4 296.6 L222.8 294 L226.4 295.8 L226.6 300 L223.2 302.8 L219.6 300.8 Z"/>
<path class="n" d="M219.4 296.6 L223 298.6 L226.4 295.8"/>
<path class="n" d="M223 298.6 L223.2 302.8"/>
<path class="p" d="M334.91 374.15 L363.91 357.15 L362.09 354.05 L333.09 371.05 Z"/>
<ellipse class="p2" cx="364.7" cy="351.9" rx="4.6" ry="6.4" transform="rotate(29.5 364.7 351.9)"/>
<ellipse class="p" cx="365.6" cy="352.4" rx="4.6" ry="6.4" transform="rotate(29.5 365.6 352.4)"/>
<ellipse class="n" cx="365.6" cy="352.4" rx="1.5" ry="2.1" transform="rotate(29.5 365.6 352.4)"/>
<ellipse class="n" cx="364.32" cy="349.84" rx="0.7" ry="0.9" transform="rotate(29.5 364.32 349.84)"/>
<ellipse class="n" cx="367.68" cy="350.64" rx="0.7" ry="0.9" transform="rotate(29.5 367.68 350.64)"/>
<ellipse class="n" cx="364.8" cy="355.28" rx="0.7" ry="0.9" transform="rotate(29.5 364.8 355.28)"/>
<ellipse class="n" cx="368" cy="354.8" rx="0.7" ry="0.9" transform="rotate(29.5 368 354.8)"/>
<ellipse class="p2" cx="329.2" cy="375.3" rx="4.6" ry="6.4" transform="rotate(29.5 329.2 375.3)"/>
<ellipse class="p" cx="330.1" cy="375.8" rx="4.6" ry="6.4" transform="rotate(29.5 330.1 375.8)"/>
<ellipse class="n" cx="330.1" cy="375.8" rx="1.5" ry="2.1" transform="rotate(29.5 330.1 375.8)"/>
<ellipse class="n" cx="328.82" cy="373.24" rx="0.7" ry="0.9" transform="rotate(29.5 328.82 373.24)"/>
<ellipse class="n" cx="332.18" cy="374.04" rx="0.7" ry="0.9" transform="rotate(29.5 332.18 374.04)"/>
<ellipse class="n" cx="329.3" cy="378.68" rx="0.7" ry="0.9" transform="rotate(29.5 329.3 378.68)"/>
<ellipse class="n" cx="332.5" cy="378.2" rx="0.7" ry="0.9" transform="rotate(29.5 332.5 378.2)"/>
<ellipse class="p" cx="356.5" cy="346.9" rx="1.9" ry="2.5" transform="rotate(29.5 356.5 346.9)"/>
<ellipse class="p" cx="172.2" cy="338" rx="1.9" ry="2.5" transform="rotate(29.5 172.2 338)"/>
<path class="w" d="M144.8 325.63 L150.2 328.69 A0.72 1.2 29.5 0 1 149.02 330.77 L143.62 327.72 A0.72 1.2 29.5 0 1 144.8 325.63 Z"/>
<path class="n2" d="M144.8 325.63 L150.2 328.69 A0.72 1.2 29.5 0 1 149.02 330.77 L143.62 327.72"/>
<path class="n" d="M149.33 328.19 L149.45 328.3 L149.54 328.45 L149.59 328.64 L149.6 328.86 L149.56 329.1 L149.48 329.35 L149.36 329.59 L149.22 329.82 L149.05 330.01 L148.86 330.17 L148.67 330.28 L148.48 330.33 L148.3 330.34 L148.15 330.28"/>
<path class="n" d="M148.37 327.65 L148.5 327.76 L148.58 327.91 L148.63 328.1 L148.64 328.32 L148.6 328.56 L148.52 328.81 L148.41 329.05 L148.26 329.27 L148.09 329.47 L147.9 329.62 L147.71 329.73 L147.52 329.79 L147.34 329.79 L147.19 329.74"/>
<path class="n" d="M147.41 327.11 L147.54 327.22 L147.63 327.37 L147.67 327.56 L147.68 327.78 L147.64 328.02 L147.56 328.27 L147.45 328.51 L147.3 328.73 L147.13 328.93 L146.94 329.08 L146.75 329.19 L146.56 329.25 L146.39 329.25 L146.23 329.2"/>
<path class="n" d="M146.46 326.57 L146.58 326.67 L146.67 326.83 L146.72 327.02 L146.72 327.24 L146.69 327.48 L146.61 327.73 L146.49 327.97 L146.34 328.19 L146.17 328.39 L145.99 328.54 L145.79 328.65 L145.6 328.71 L145.43 328.71 L145.27 328.66"/>
<path class="p2" d="M142.88 322.94 L145.49 324.41 A1.6 2.6 29.5 0 1 142.93 328.94 L140.32 327.46 A1.6 2.6 29.5 0 1 142.88 322.94 Z"/>
<ellipse class="p2" cx="141.6" cy="325.2" rx="1.6" ry="2.6" transform="rotate(29.5 141.6 325.2)"/>
<ellipse class="p2" cx="153.7" cy="332" rx="1.6" ry="2.6" transform="rotate(29.5 153.7 332)"/>
<ellipse class="n" cx="153.7" cy="332" rx="0.8" ry="1.4" transform="rotate(29.5 153.7 332)"/>
<path class="w" d="M165.8 287.63 L171.2 290.69 A0.72 1.2 29.5 0 1 170.02 292.77 L164.62 289.72 A0.72 1.2 29.5 0 1 165.8 287.63 Z"/>
<path class="n2" d="M165.8 287.63 L171.2 290.69 A0.72 1.2 29.5 0 1 170.02 292.77 L164.62 289.72"/>
<path class="n" d="M170.33 290.19 L170.45 290.3 L170.54 290.45 L170.59 290.64 L170.6 290.86 L170.56 291.1 L170.48 291.35 L170.36 291.59 L170.22 291.82 L170.05 292.01 L169.86 292.17 L169.67 292.28 L169.48 292.33 L169.3 292.34 L169.15 292.28"/>
<path class="n" d="M169.37 289.65 L169.5 289.76 L169.58 289.91 L169.63 290.1 L169.64 290.32 L169.6 290.56 L169.52 290.81 L169.41 291.05 L169.26 291.27 L169.09 291.47 L168.9 291.62 L168.71 291.73 L168.52 291.79 L168.34 291.79 L168.19 291.74"/>
<path class="n" d="M168.41 289.11 L168.54 289.22 L168.63 289.37 L168.67 289.56 L168.68 289.78 L168.64 290.02 L168.56 290.27 L168.45 290.51 L168.3 290.73 L168.13 290.93 L167.94 291.08 L167.75 291.19 L167.56 291.25 L167.39 291.25 L167.23 291.2"/>
<path class="n" d="M167.46 288.57 L167.58 288.67 L167.67 288.83 L167.72 289.02 L167.72 289.24 L167.69 289.48 L167.61 289.73 L167.49 289.97 L167.34 290.19 L167.17 290.39 L166.99 290.54 L166.79 290.65 L166.6 290.71 L166.43 290.71 L166.27 290.66"/>
<path class="p2" d="M163.88 284.94 L166.49 286.41 A1.6 2.6 29.5 0 1 163.93 290.94 L161.32 289.46 A1.6 2.6 29.5 0 1 163.88 284.94 Z"/>
<ellipse class="p2" cx="162.6" cy="287.2" rx="1.6" ry="2.6" transform="rotate(29.5 162.6 287.2)"/>
<ellipse class="p2" cx="175.2" cy="294.6" rx="1.6" ry="2.6" transform="rotate(29.5 175.2 294.6)"/>
<ellipse class="n" cx="175.2" cy="294.6" rx="0.8" ry="1.4" transform="rotate(29.5 175.2 294.6)"/>
<path class="w" d="M384 367.77 L377.91 364.32 A0.72 1.2 209.5 0 1 379.09 362.23 L385.18 365.68 A0.72 1.2 209.5 0 1 384 367.77 Z"/>
<path class="n2" d="M384 367.77 L377.91 364.32 A0.72 1.2 209.5 0 1 379.09 362.23 L385.18 365.68"/>
<path class="n" d="M378.78 364.81 L378.65 364.71 L378.56 364.56 L378.51 364.36 L378.51 364.14 L378.55 363.9 L378.62 363.65 L378.74 363.41 L378.89 363.19 L379.06 363 L379.25 362.84 L379.44 362.73 L379.63 362.67 L379.8 362.67 L379.96 362.72"/>
<path class="n" d="M379.73 365.35 L379.61 365.25 L379.52 365.1 L379.47 364.91 L379.47 364.68 L379.5 364.44 L379.58 364.2 L379.7 363.96 L379.84 363.73 L380.02 363.54 L380.2 363.38 L380.4 363.27 L380.58 363.22 L380.76 363.21 L380.92 363.27"/>
<path class="n" d="M380.69 365.9 L380.57 365.79 L380.48 365.64 L380.43 365.45 L380.42 365.23 L380.46 364.99 L380.54 364.74 L380.65 364.5 L380.8 364.27 L380.97 364.08 L381.16 363.92 L381.35 363.81 L381.54 363.76 L381.72 363.75 L381.87 363.81"/>
<path class="n" d="M381.65 366.44 L381.52 366.33 L381.43 366.18 L381.39 365.99 L381.38 365.77 L381.42 365.53 L381.5 365.28 L381.61 365.04 L381.76 364.82 L381.93 364.62 L382.12 364.46 L382.31 364.36 L382.5 364.3 L382.68 364.3 L382.83 364.35"/>
<path class="p2" d="M385.92 370.46 L383.31 368.99 A1.6 2.6 209.5 0 1 385.87 364.46 L388.48 365.94 A1.6 2.6 209.5 0 1 385.92 370.46 Z"/>
<ellipse class="p2" cx="387.2" cy="368.2" rx="1.6" ry="2.6" transform="rotate(209.5 387.2 368.2)"/>
<ellipse class="p2" cx="371.9" cy="360" rx="1.6" ry="2.6" transform="rotate(29.5 371.9 360)"/>
<ellipse class="n" cx="371.9" cy="360" rx="0.8" ry="1.4" transform="rotate(29.5 371.9 360)"/>
<path class="w" d="M374.4 391.37 L368.31 387.92 A0.72 1.2 209.5 0 1 369.49 385.83 L375.58 389.28 A0.72 1.2 209.5 0 1 374.4 391.37 Z"/>
<path class="n2" d="M374.4 391.37 L368.31 387.92 A0.72 1.2 209.5 0 1 369.49 385.83 L375.58 389.28"/>
<path class="n" d="M369.18 388.41 L369.05 388.31 L368.96 388.16 L368.91 387.96 L368.91 387.74 L368.95 387.5 L369.02 387.25 L369.14 387.01 L369.29 386.79 L369.46 386.6 L369.65 386.44 L369.84 386.33 L370.03 386.27 L370.2 386.27 L370.36 386.32"/>
<path class="n" d="M370.13 388.95 L370.01 388.85 L369.92 388.7 L369.87 388.51 L369.87 388.28 L369.9 388.04 L369.98 387.8 L370.1 387.56 L370.24 387.33 L370.42 387.14 L370.6 386.98 L370.8 386.87 L370.98 386.82 L371.16 386.81 L371.32 386.87"/>
<path class="n" d="M371.09 389.5 L370.97 389.39 L370.88 389.24 L370.83 389.05 L370.82 388.83 L370.86 388.59 L370.94 388.34 L371.05 388.1 L371.2 387.87 L371.37 387.68 L371.56 387.52 L371.75 387.41 L371.94 387.36 L372.12 387.35 L372.27 387.41"/>
<path class="n" d="M372.05 390.04 L371.92 389.93 L371.83 389.78 L371.79 389.59 L371.78 389.37 L371.82 389.13 L371.9 388.88 L372.01 388.64 L372.16 388.42 L372.33 388.22 L372.52 388.06 L372.71 387.96 L372.9 387.9 L373.08 387.9 L373.23 387.95"/>
<path class="p2" d="M376.32 394.06 L373.71 392.59 A1.6 2.6 209.5 0 1 376.27 388.06 L378.88 389.54 A1.6 2.6 209.5 0 1 376.32 394.06 Z"/>
<ellipse class="p2" cx="377.6" cy="391.8" rx="1.6" ry="2.6" transform="rotate(209.5 377.6 391.8)"/>
<ellipse class="p2" cx="361.5" cy="383.2" rx="1.6" ry="2.6" transform="rotate(29.5 361.5 383.2)"/>
<ellipse class="n" cx="361.5" cy="383.2" rx="0.8" ry="1.4" transform="rotate(29.5 361.5 383.2)"/>
<path class="p2" d="M180.8 292.8 q1.6 -2 3.2 -.6 l.2 2.6 l-1.4 1 l.2 3.4 l1.4 .8 l-.2 2 q-2 1 -3.2 -.8 Z"/>
<path class="p2" d="M354.6 372.8 q1.6 -2 3.2 -.6 l.2 2.6 l-1.4 1 l.2 3.4 l1.4 .8 l-.2 2 q-2 1 -3.2 -.8 Z"/>
<path class="l" d="M322 359.4 L353.6 377.8"/>
<path class="p" d="M260 221.6 L260 229.6 L263 229.6 L263 221.6 Z"/>
<path class="h" d="M260 224.4 L263 224.8"/>
<path class="h" d="M260 225.6 L263 226"/>
<path class="h" d="M260 226.8 L263 227.2"/>
<path class="h" d="M260 228 L263 228.4"/>
<path class="p" d="M258 218.6 L258 221 Q261.5 223.4 265 221 L265 218.6 Z"/>
<ellipse class="p" cx="261.5" cy="218.6" rx="3.5" ry="2.2" transform="rotate(0 261.5 218.6)"/>
<ellipse class="p" cx="261.2" cy="233.8" rx="2.8" ry="1.6" transform="rotate(0 261.2 233.8)"/>
<ellipse class="n" cx="261.2" cy="233.8" rx="1.3" ry="0.7" transform="rotate(0 261.2 233.8)"/>
<path class="p" d="M264.2 255 Q264.6 247.6 270.6 244.4 Q277.6 241.8 281.2 248.2 L282.8 254.6 L288.2 252.4 L289.4 253.6 L283 257 L280 256.6 L278 250.4 Q275.4 246.4 271.2 248.2 Q267.6 250.4 267.4 257.4 L262.6 258.8 L262 257.2 Z"/>
<path class="n" d="M266.6 247 Q271 241.6 277.6 242.8 Q282.6 244.4 284.4 250.6 L285.2 253.6"/>
<path class="h" d="M271.2 248.2 Q273.6 246 276.8 247.4"/>
<path class="w" d="M253.94 262.59 L249.33 268.5 A0.72 1.2 128 0 1 247.44 267.02 L252.05 261.11 A0.72 1.2 128 0 1 253.94 262.59 Z"/>
<path class="n2" d="M253.94 262.59 L249.33 268.5 A0.72 1.2 128 0 1 247.44 267.02 L252.05 261.11"/>
<path class="n" d="M249.94 267.71 L249.82 267.82 L249.66 267.88 L249.46 267.9 L249.24 267.88 L249.01 267.8 L248.78 267.69 L248.55 267.54 L248.35 267.36 L248.19 267.16 L248.06 266.95 L247.98 266.75 L247.95 266.55 L247.98 266.38 L248.05 266.23"/>
<path class="n" d="M250.62 266.84 L250.5 266.95 L250.33 267.02 L250.14 267.04 L249.92 267.01 L249.69 266.94 L249.45 266.82 L249.23 266.67 L249.03 266.49 L248.87 266.29 L248.74 266.09 L248.66 265.88 L248.63 265.68 L248.65 265.51 L248.73 265.37"/>
<path class="n" d="M251.3 265.98 L251.18 266.08 L251.01 266.15 L250.81 266.17 L250.59 266.14 L250.36 266.07 L250.13 265.95 L249.91 265.8 L249.71 265.63 L249.54 265.43 L249.42 265.22 L249.34 265.01 L249.31 264.82 L249.33 264.64 L249.41 264.5"/>
<path class="n" d="M251.97 265.11 L251.85 265.22 L251.69 265.28 L251.49 265.3 L251.27 265.27 L251.04 265.2 L250.81 265.09 L250.59 264.94 L250.39 264.76 L250.22 264.56 L250.09 264.35 L250.01 264.15 L249.98 263.95 L250.01 263.78 L250.08 263.63"/>
<path class="p2" d="M257.12 261.77 L255.52 263.82 A2.6 3.2 128 0 1 250.48 259.88 L252.08 257.83 A2.6 3.2 128 0 1 257.12 261.77 Z"/>
<ellipse class="p2" cx="254.6" cy="259.8" rx="2.6" ry="3.2" transform="rotate(128 254.6 259.8)"/>
<ellipse class="p2" cx="244.4" cy="272.2" rx="1.8" ry="2.4" transform="rotate(60 244.4 272.2)"/>
<ellipse class="n" cx="244.4" cy="272.2" rx="1" ry="1.2" transform="rotate(60 244.4 272.2)"/>
<path class="p" d="M239.2 277.8 L242 275.6 L243.8 277.2 Q251.4 274.6 257.2 281.6 Q262.2 288.6 261.2 297.2 L262.6 299 L259 302.8 L255.4 301.4 L254.6 299.2 L256 297 Q256.4 290.6 252.6 285.6 Q249 281.4 245.4 281.4 L241 281 Z"/>
<path class="h" d="M245 278.4 Q249 279.6 252 283"/>
<ellipse class="n" cx="258.4" cy="300" rx="0.6" ry="0.9" transform="rotate(29.5 258.4 300)"/>
<path class="p" d="M268 359 Q267.6 354.6 271 352.8 L274.6 354 Q275 356 274 357.6 Q273.6 367 279 373.6 L283.6 376.8 L288 377.6 L290.2 380 L286.6 383 L282.6 382.4 L280.4 380.6 Q269.6 374 268 359 Z"/>
<path d="M268.4 358 L270.8 353.4 L274.4 354.4 L273.6 357.4 L270.4 359.4 Z" fill="#555"/>
<path d="M283.6 378.4 L287.6 378 L289.6 380 L286.4 382.4 L283.4 381.4 Z" fill="#555"/>
<path class="p" d="M299.2 351 L301.8 349.6 L305.6 349.2 Q308.6 354.6 314.8 358.2 L316.6 352.4 L319.8 347.4 L323 348.6 L322.6 353.4 L321.4 358.4 L322.4 360 L319.6 361.4 L317.8 359.6 Q312 363.6 306.6 360.4 Q301.8 356.6 300.2 352 Z"/>
<path d="M317.2 352.6 L320 347.8 L322.6 348.8 L322 354.6 L319.8 358.6 L317.6 357 Z" fill="#666"/>
<path class="n" d="M298.2 350.4 L300.6 350.8"/>
<path class="l" d="M280.4 381.6 L282.5 392.1 L314.5 374.1 L312.2 363"/>
<path class="l" d="M298.4 384.7 L299.7 390.9"/>
<text class="b" transform="translate(195.9 290) scale(.82 1)">b</text>
<path class="l" d="M202.5 287.75 L211.3 292.35"/>
<path class="f" d="M217.5 295.6 L210.67 293.55 L211.92 291.16 Z"/>
<text class="b" transform="translate(227.5 321.9) scale(.82 1)">a</text>
<path class="l" d="M208 313.75 L216.61 318.97"/>
<path class="f" d="M222.6 322.6 L215.91 320.13 L217.31 317.82 Z"/>
<text class="b" transform="translate(261.4 356.7) scale(.82 1)">a</text>
<path class="l" d="M251.2 354.9 L260 359.86"/>
<path class="f" d="M266.1 363.3 L259.34 361.04 L260.67 358.69 Z"/>
<text class="b" transform="translate(334.75 395) scale(.82 1)">b</text>
<path class="l" d="M348 385.6 L339.36 380.93"/>
<path class="f" d="M333.2 377.6 L340 379.74 L338.72 382.12 Z"/>
<text class="b" transform="translate(256 419.2) scale(.82 1)">b</text>
<path class="l" d="M276.1 424.8 L267.05 419.52"/>
<path class="f" d="M261 416 L267.73 418.36 L266.37 420.69 Z"/>
<rect x="240.1" y="405.4" width="81.6" height="71.1" fill="none" stroke="#222" stroke-width=".75"/>
<ellipse class="p" cx="280.9" cy="427.1" rx="2.5" ry="3.3" transform="rotate(29.5 280.9 427.1)"/>
<path d="M283.5 430.6 q.8 -2.8 3.2 -2.6 q2 .6 1.6 2.8 l-1 1.2 l-1.6 -.6 l-.6 2.4 l1.6 1.4 l-.4 1.6 q-2.4 1.4 -3.6 -1 Z" fill="#fff" stroke="#222" stroke-width="1"/>
<path d="M289.4 427 q.8 -2.8 3.2 -2.6 q2 .6 1.6 2.8 l-1 1.2 l-1.6 -.6 l-.6 2.4 l1.6 1.4 l-.4 1.6 q-2.4 1.4 -3.6 -1 Z" fill="#fff" stroke="#222" stroke-width="1"/>
<ellipse class="p2" cx="291.5" cy="439.9" rx="1.5" ry="2.3" transform="rotate(29.5 291.5 439.9)"/>
<ellipse class="n" cx="291.5" cy="439.9" rx="0.7" ry="1.1" transform="rotate(29.5 291.5 439.9)"/>
<path class="w" d="M302.7 447.47 L296.61 444.02 A0.72 1.2 209.5 0 1 297.79 441.93 L303.88 445.38 A0.72 1.2 209.5 0 1 302.7 447.47 Z"/>
<path class="n2" d="M302.7 447.47 L296.61 444.02 A0.72 1.2 209.5 0 1 297.79 441.93 L303.88 445.38"/>
<path class="n" d="M297.48 444.51 L297.35 444.41 L297.26 444.26 L297.21 444.06 L297.21 443.84 L297.25 443.6 L297.32 443.35 L297.44 443.11 L297.59 442.89 L297.76 442.7 L297.95 442.54 L298.14 442.43 L298.33 442.37 L298.5 442.37 L298.66 442.42"/>
<path class="n" d="M298.43 445.05 L298.31 444.95 L298.22 444.8 L298.17 444.61 L298.17 444.38 L298.2 444.14 L298.28 443.9 L298.4 443.66 L298.54 443.43 L298.72 443.24 L298.9 443.08 L299.1 442.97 L299.28 442.92 L299.46 442.91 L299.62 442.97"/>
<path class="n" d="M299.39 445.6 L299.27 445.49 L299.18 445.34 L299.13 445.15 L299.12 444.93 L299.16 444.69 L299.24 444.44 L299.35 444.2 L299.5 443.97 L299.67 443.78 L299.86 443.62 L300.05 443.51 L300.24 443.46 L300.42 443.45 L300.57 443.51"/>
<path class="n" d="M300.35 446.14 L300.22 446.03 L300.13 445.88 L300.09 445.69 L300.08 445.47 L300.12 445.23 L300.2 444.98 L300.31 444.74 L300.46 444.52 L300.63 444.32 L300.82 444.16 L301.01 444.06 L301.2 444 L301.38 444 L301.53 444.05"/>
<path class="p2" d="M304.32 450.69 L301.71 449.21 A2.2 3.2 209.5 0 1 304.86 443.64 L307.48 445.11 A2.2 3.2 209.5 0 1 304.32 450.69 Z"/>
<ellipse class="p2" cx="305.9" cy="447.9" rx="2.2" ry="3.2" transform="rotate(209.5 305.9 447.9)"/>
<path class="l" d="M278.4 441.1 L284.5 444.3"/>
<path class="l" d="M278.4 441.1 L284.1 434.6"/>
<path class="l" d="M284.5 444.3 L289.4 438.1"/>
<path class="l" d="M323 67.5 L328 95.4"/>
<text class="t" transform="translate(319.6 64.8) scale(.86 1)">15</text>
<path class="l" d="M305 78 L312.6 103.2"/>
<text class="t" transform="translate(302.3 74.9) scale(.86 1)">16</text>
<path class="l" d="M292.2 86.8 L302 111.4"/>
<text class="t" transform="translate(289.1 83) scale(.86 1)">19</text>
<path class="l" d="M278.6 95 L290 118.8"/>
<text class="t" transform="translate(274.8 92.2) scale(.86 1)">14</text>
<path class="l" d="M259.4 103.8 L273.4 127.2"/>
<text class="t" transform="translate(254.8 102) scale(.86 1)">13</text>
<path class="l" d="M240.2 114.6 L250 134.4"/>
<text class="t" transform="translate(236.3 113.2) scale(.86 1)">9</text>
<path class="l" d="M221.4 125 L233.2 150.4"/>
<text class="t" transform="translate(217.8 122.8) scale(.86 1)">12</text>
<path class="l" d="M207 134.4 L220 158.8"/>
<text class="t" transform="translate(203 132.2) scale(.86 1)">10</text>
<path class="l" d="M192 142.8 L207.8 166.8"/>
<text class="t" transform="translate(187.4 141) scale(.86 1)">11</text>
<path class="l" d="M133.6 175.4 L149.6 199.6"/>
<text class="t" transform="translate(131.2 174) scale(.86 1)">2</text>
<path class="l" d="M78.6 239.6 L92.6 222.8"/>
<text class="t" transform="translate(72.4 249.6) scale(.86 1)">7</text>
<path class="l" d="M97.5 253.8 L97.5 243.6"/>
<text class="t" transform="translate(95.8 262.2) scale(.86 1)">8</text>
<path class="l" d="M127 270 L137.8 248.6"/>
<text class="t" transform="translate(123.6 278.2) scale(.86 1)">6</text>
<path class="l" d="M148.6 281 L154.6 258.4"/>
<text class="t" transform="translate(146 291) scale(.86 1)">7</text>
<path class="l" d="M238.6 207.2 L233 191"/>
<text class="t" transform="translate(238.8 214.6) scale(.86 1)">17</text>
<path class="l" d="M275.6 219.4 L265.2 222.4"/>
<text class="t" transform="translate(280.4 220.2) scale(.86 1)">34</text>
<path class="l" d="M275.6 234.7 L264 234"/>
<text class="t" transform="translate(280.4 238.2) scale(.86 1)">35</text>
<path class="l" d="M295.6 238 L283.2 248.6"/>
<text class="t" transform="translate(299.4 236.4) scale(.86 1)">33</text>
<path class="l" d="M238.6 245 L249.4 262.6"/>
<text class="t" transform="translate(233.6 243.2) scale(.86 1)">34</text>
<path class="l" d="M231.8 258 L243 270.4"/>
<text class="t" transform="translate(223.4 255.6) scale(.86 1)">35</text>
<path class="l" d="M223 268 L238.8 276.4"/>
<text class="t" transform="translate(213.4 269.6) scale(.86 1)">33</text>
<path class="l" d="M165.8 265 L166.8 286.4"/>
<text class="t" transform="translate(163.6 261.8) scale(.86 1)">37</text>
<path class="l" d="M176.8 272.4 L175.4 291.8"/>
<text class="t" transform="translate(175.6 270) scale(.86 1)">38</text>
<path class="l" d="M187.2 279 L183 291.6"/>
<text class="t" transform="translate(187.6 276.4) scale(.86 1)">36</text>
<path class="l" d="M327.4 255.2 L317.8 269.6"/>
<text class="t" transform="translate(328.8 253.2) scale(.86 1)">4</text>
<path class="l" d="M357.4 238.8 L365 257.4"/>
<text class="t" transform="translate(355 236.4) scale(.86 1)">5</text>
<path class="l" d="M366.2 278.8 L359.4 292"/>
<text class="t" transform="translate(367.5 276.4) scale(.86 1)">3</text>
<path class="l" d="M387.4 289.6 L377 303.2"/>
<text class="t" transform="translate(389.2 288.4) scale(.86 1)">4</text>
<path class="l" d="M160.4 309 L171.8 325"/>
<text class="t" transform="translate(155.4 307.2) scale(.86 1)">27</text>
<path class="l" d="M130.4 337.4 L142 330.2"/>
<text class="t" transform="translate(123.4 345) scale(.86 1)">29</text>
<path class="l" d="M146.2 345.2 L152.6 334"/>
<text class="t" transform="translate(140.6 354.6) scale(.86 1)">30</text>
<path class="l" d="M163.8 354.4 L171.2 340.4"/>
<text class="t" transform="translate(157.6 364.6) scale(.86 1)">31</text>
<path class="l" d="M318.8 330.2 L306.2 316.2"/>
<text class="t" transform="translate(322.2 339.6) scale(.86 1)">1</text>
<path class="l" d="M361.2 332.6 L357.6 344.4"/>
<text class="t" transform="translate(360.2 330.6) scale(.86 1)">31</text>
<path class="l" d="M378 343.8 L372.6 357.6"/>
<text class="t" transform="translate(378.4 341) scale(.86 1)">30</text>
<path class="l" d="M390 351.2 L381.4 363.6"/>
<text class="t" transform="translate(392.6 348.8) scale(.86 1)">29</text>
<path class="l" d="M368 370.6 L358.8 360.6"/>
<text class="t" transform="translate(370.6 379.6) scale(.86 1)">28</text>
<path class="l" d="M344.4 393.8 L355 382.2"/>
<text class="t" transform="translate(336.2 402.2) scale(.86 1)">36</text>
<path class="l" d="M354.6 404 L361.2 385.4"/>
<text class="t" transform="translate(351.2 411.8) scale(.86 1)">38</text>
<path class="l" d="M367.8 411.2 L368.8 391.6"/>
<text class="t" transform="translate(365 419.6) scale(.86 1)">37</text>
<text class="t" transform="translate(298.6 401.8) scale(.86 1)">32</text>
<path class="l" d="M246.2 376.2 L226.6 357.6"/>
<text class="t" transform="translate(252.4 385.6) scale(.86 1)">23</text>
<path class="l" d="M228.8 386.2 L211.2 367.2"/>
<text class="t" transform="translate(232.8 395.6) scale(.86 1)">22</text>
<path class="l" d="M212.4 396.2 L196.4 374.4"/>
<text class="t" transform="translate(215 406.4) scale(.86 1)">26</text>
<path class="l" d="M193.8 408.8 L182.4 385.2"/>
<text class="t" transform="translate(194.6 418.4) scale(.86 1)">20</text>
<path class="l" d="M173.8 418.8 L161.4 395.4"/>
<text class="t" transform="translate(175 430.2) scale(.86 1)">21</text>
<path class="l" d="M156.2 428.8 L143.8 405.2"/>
<text class="t" transform="translate(157.4 439.6) scale(.86 1)">22</text>
<path class="l" d="M141.2 438.8 L129.6 413.4"/>
<text class="t" transform="translate(141.8 448.8) scale(.86 1)">23</text>
<path class="l" d="M126.2 447 L115.6 419.6"/>
<text class="t" transform="translate(128.2 456.8) scale(.86 1)">25</text>
<path class="l" d="M110 457.6 L103 426.4"/>
<text class="t" transform="translate(111.8 468) scale(.86 1)">24</text>
<path class="l" d="M91.2 468.8 L89.6 434"/>
<text class="t" transform="translate(91.2 479.6) scale(.86 1)">25</text>
<path class="l" d="M266.4 441.7 L278.4 429.8"/>
<text class="t" transform="translate(259.3 450.8) scale(.86 1)">40</text>
<path class="l" d="M277 448.2 L281.4 442.6"/>
<text class="t" transform="translate(271.3 459) scale(.86 1)">39</text>
<path class="l" d="M288.5 455.9 L291.2 442.4"/>
<text class="t" transform="translate(284.5 465) scale(.86 1)">42</text>
<path class="l" d="M300.4 463.8 L300.4 449.4"/>
<text class="t" transform="translate(297.8 473.2) scale(.86 1)">41</text>
<text x="261.6" y="485.2" style="font:6.3px 'Liberation Sans','Noto Sans CJK JP',sans-serif;letter-spacing:4.4px;fill:#111;stroke:#222;stroke-width:.2">運搬部品</text>
<text transform="translate(280.6 493.9) scale(.68 1)" style="font:9.2px 'Liberation Mono',monospace;fill:#222;text-anchor:middle">For Shipping</text>
<text x="370.7" y="493.4" style="font:5.6px 'Liberation Sans',sans-serif;fill:#111;stroke:#222;stroke-width:.15;text-anchor:middle">CZY20933</text>
<text x="370.4" y="499.3" style="font:5.6px 'Liberation Sans',sans-serif;fill:#111;stroke:#222;stroke-width:.15;text-anchor:middle">(JY020933)</text>
</svg>

</div>
</body></html>
